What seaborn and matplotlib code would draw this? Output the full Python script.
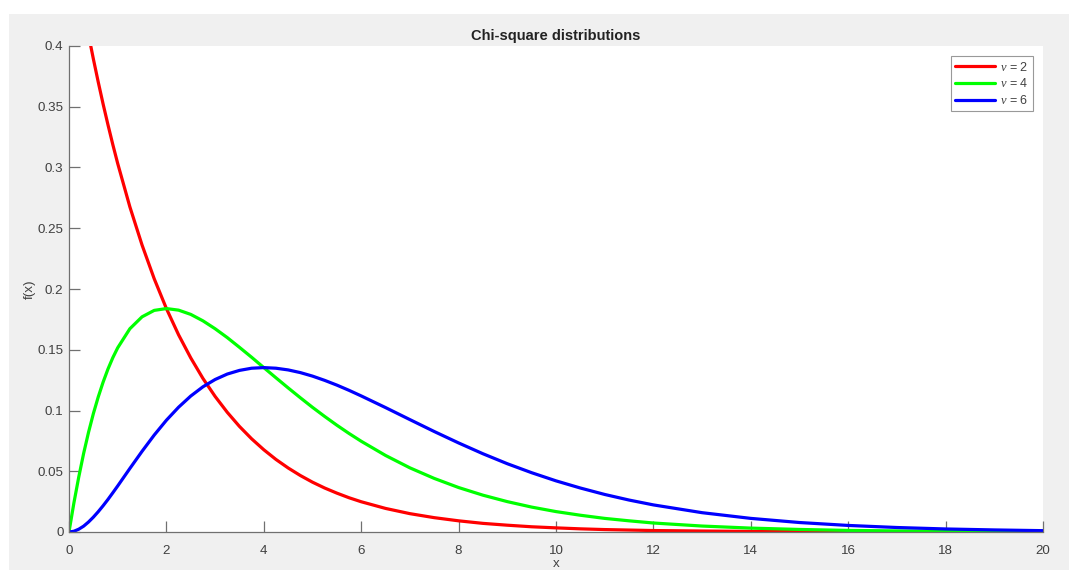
import numpy as np
import pandas as pd
import matplotlib
matplotlib.use("Agg")
import matplotlib.pyplot as plt
from matplotlib.patches import Rectangle
from matplotlib.ticker import FuncFormatter
import seaborn as sns

# values
x_vals = [0, 0.1, 0.2, 0.3, 0.4, 0.5, 0.6, 0.7, 0.8, 0.9, 1,
          1.25, 1.5, 1.75, 2, 2.25, 2.5, 2.75, 3, 3.25, 3.5, 3.75,
          4, 4.25, 4.5, 4.75, 5, 5.25, 5.5, 5.75, 6,
          6.5, 7, 7.5, 8, 8.5, 9, 9.5, 10, 10.5, 11, 11.5, 12,
          13, 14, 15, 16, 17, 18, 19, 20]
nu2 = [0.5, 0.4756, 0.4524, 0.4304, 0.4094, 0.3894, 0.3704, 0.3523, 0.3352, 0.3188, 0.3033,
       0.2676, 0.2362, 0.2084, 0.1839, 0.1623, 0.1433, 0.1264, 0.1116, 0.0985, 0.0869, 0.0767,
       0.0677, 0.0597, 0.0527, 0.0465, 0.0410, 0.0362, 0.0320, 0.0282, 0.0249,
       0.0194, 0.0151, 0.0118, 0.0092, 0.0071, 0.0056, 0.0043, 0.0034, 0.0026, 0.0020, 0.0016, 0.0012,
       0.0008, 0.0005, 0.0003, 0.0002, 0.0001, 0.0001, 0.0000, 0.0000]
nu4 = [0.0, 0.0238, 0.0452, 0.0646, 0.0819, 0.0974, 0.1111, 0.1233, 0.1341, 0.1435, 0.1516,
       0.1673, 0.1771, 0.1824, 0.1839, 0.1826, 0.1791, 0.1738, 0.1673, 0.1600, 0.1520, 0.1438,
       0.1353, 0.1269, 0.1186, 0.1105, 0.1026, 0.0951, 0.0879, 0.0811, 0.0747,
       0.0630, 0.0528, 0.0441, 0.0366, 0.0303, 0.0250, 0.0205, 0.0168, 0.0138, 0.0112, 0.0092, 0.0074,
       0.0049, 0.0032, 0.0021, 0.0013, 0.0009, 0.0006, 0.0004, 0.0002]
nu6 = [0.0, 0.0006, 0.0023, 0.0048, 0.0082, 0.0122, 0.0167, 0.0216, 0.0268, 0.0323, 0.0379,
       0.0523, 0.0664, 0.0798, 0.0920, 0.1027, 0.1119, 0.1195, 0.1255, 0.1300, 0.1330, 0.1348,
       0.1353, 0.1348, 0.1334, 0.1312, 0.1283, 0.1248, 0.1209, 0.1166, 0.1120,
       0.1024, 0.0925, 0.0827, 0.0733, 0.0644, 0.0562, 0.0488, 0.0421, 0.0362, 0.0309, 0.0263, 0.0223,
       0.0159, 0.0112, 0.0078, 0.0054, 0.0037, 0.0025, 0.0017, 0.0011]
labels = [r"$\nu$ = 2", r"$\nu$ = 4", r"$\nu$ = 6"]
colors = ["#ff0000", "#00ff00", "#0000ff"]

df = pd.concat([
    pd.DataFrame({"x": x_vals, "f": vals, "dist": lab})
    for vals, lab in zip([nu2, nu4, nu6], labels)
])

sns.set_theme(style="white")
plt.rcParams["font.family"] = ["Liberation Sans", "DejaVu Sans"]
plt.rcParams["mathtext.fontset"] = "custom"
plt.rcParams["mathtext.it"] = "Liberation Serif:italic"

fig = plt.figure(figsize=(10.69, 5.70), dpi=100, facecolor="white")
# grey MATLAB-style figure panel
fig.patches.append(Rectangle((9 / 1069, 0), 1 - 9 / 1069, 1 - 14 / 570,
                             transform=fig.transFigure, facecolor="#f0f0f0",
                             edgecolor="none", zorder=-10))
ax = fig.add_axes([69 / 1069, 38 / 570, 974 / 1069, 486 / 570])
ax.set_facecolor("white")

sns.lineplot(data=df, x="x", y="f", hue="dist", palette=colors, linewidth=2.3,
             ax=ax, sort=False)

ax.set_xlim(0, 20)
ax.set_ylim(0, 0.4)
ax.set_xticks(np.arange(0, 21, 2))
ax.set_yticks(np.arange(0, 0.401, 0.05))
ax.yaxis.set_major_formatter(FuncFormatter(lambda v, p: f"{v:g}"))

for side in ["top", "right"]:
    ax.spines[side].set_visible(False)
for side in ["left", "bottom"]:
    ax.spines[side].set_color("#707070")
    ax.spines[side].set_linewidth(0.9)
ax.tick_params(direction="in", length=8, width=0.9, color="#707070",
               labelsize=9.6, labelcolor="#404040", left=True, bottom=True)
ax.tick_params(axis="x", pad=9)
ax.tick_params(axis="y", pad=4)

ax.set_title("Chi-square distributions", fontsize=10.5, fontweight="bold",
             color="#222222", pad=4)
ax.set_xlabel("x", fontsize=9.6, color="#404040", labelpad=1)
ax.set_ylabel("f(x)", fontsize=9.6, color="#404040", labelpad=1)

leg = ax.legend(loc="upper right", bbox_to_anchor=(0.9897, 0.979), borderaxespad=0,
                fontsize=9, frameon=True, fancybox=False, handlelength=3.2,
                handletextpad=0.4, borderpad=0.35, labelspacing=0.3, title=None)
leg.get_frame().set_edgecolor("#808080")
leg.get_frame().set_linewidth(0.8)
for t in leg.get_texts():
    t.set_color("#404040")

fig.savefig("out.png", dpi=100, facecolor=fig.get_facecolor())
